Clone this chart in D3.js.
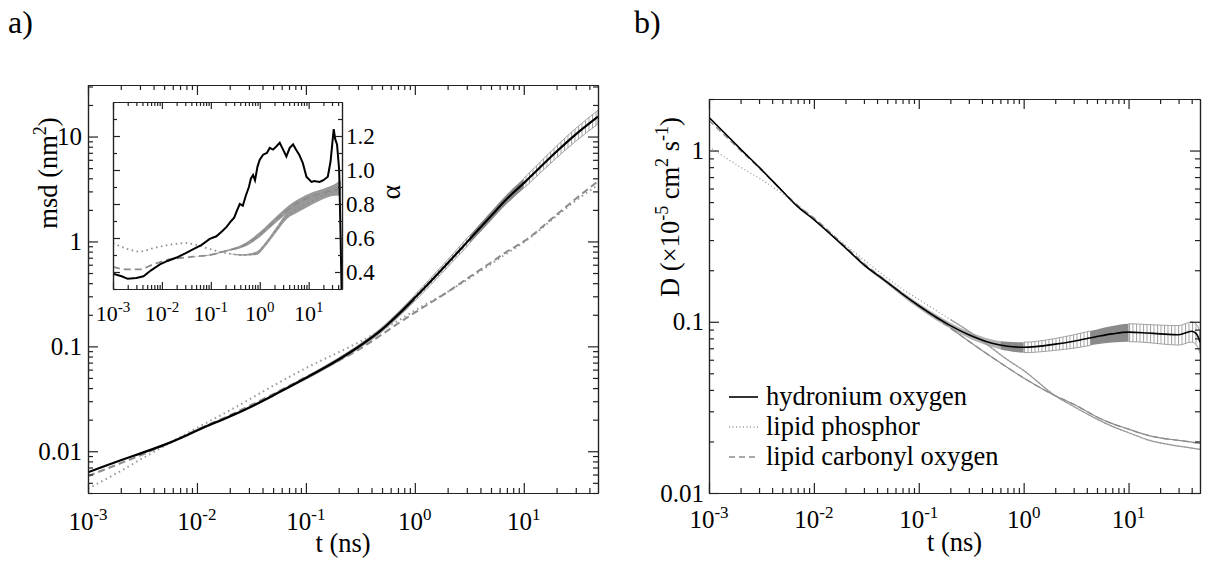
<!DOCTYPE html>
<html>
<head>
<meta charset="utf-8">
<script src="https://cdn.jsdelivr.net/npm/d3@7"></script>
<style>
  body { margin: 0; background: #fff; }
  svg, svg text { font-family: "Liberation Serif", Tinos, "Times New Roman", "DejaVu Serif", serif; }
  svg text { fill: #000; }
  .ax path, .ax line { stroke: #222; stroke-width: 1.2; fill: none; }
  .ax text { display: none; }
</style>
</head>
<body>
<svg id="fig" width="1206" height="563" font-family="Liberation Serif"></svg>
<script>
// ---------------- data ----------------

// panel a: mean square displacement (nm^2) vs t (ns)
const timeA = [0.001, 0.002, 0.003, 0.005, 0.007, 0.01, 0.02, 0.03, 0.05, 0.07, 0.1, 0.2, 0.3, 0.5, 0.7, 1, 2, 3, 5, 7, 10, 20, 30, 48];
const msdHydronium = [0.0063, 0.0082, 0.0095, 0.0115, 0.0133, 0.0158, 0.0215, 0.026, 0.034, 0.041, 0.050, 0.075, 0.098, 0.145, 0.20, 0.29, 0.62, 0.98, 1.75, 2.55, 3.6, 7.2, 10.5, 15.5];
const msdHydroniumErr = [0, 0, 0.02, 0.025, 0.025, 0.03, 0.03, 0.03, 0.03, 0.035, 0.04, 0.05, 0.05, 0.06, 0.065, 0.07, 0.08, 0.09, 0.1, 0.105, 0.11, 0.13, 0.14, 0.15];
const msdPhosphor = [0.0044, 0.0065, 0.0083, 0.0112, 0.0136, 0.0167, 0.0245, 0.031, 0.042, 0.051, 0.062, 0.088, 0.108, 0.145, 0.175, 0.22, 0.33, 0.43, 0.61, 0.77, 0.98, 1.75, 2.45, 3.45];
const msdCarbonyl = [0.0058, 0.0077, 0.0091, 0.0114, 0.0133, 0.016, 0.022, 0.027, 0.035, 0.042, 0.051, 0.073, 0.092, 0.13, 0.165, 0.21, 0.33, 0.44, 0.63, 0.8, 1.0, 1.8, 2.55, 3.75];
// error bar look per time range: [from, to, style]
const msdErrSegments = [[0.003, 0.1, "light"], [0.1, 0.6, "mid"], [0.6, 1, "dark"], [1, 3.2, "hatch"], [3.2, 10, "dark"], [10, 48, "hatch"]];

// inset: exponent alpha
const alphaTimeHyd = [0.001, 0.0015, 0.002, 0.003, 0.0042, 0.006, 0.0091, 0.013, 0.02, 0.03, 0.044, 0.065, 0.095, 0.13, 0.17, 0.21, 0.26, 0.3, 0.34, 0.39, 0.45, 0.52, 0.6, 0.66, 0.73, 0.8, 0.9, 1.0, 1.17, 1.4, 1.6, 1.87, 2.2, 2.56, 3.0, 3.5, 4.1, 4.8, 5.5, 6.4, 7.6, 9.0, 11.4, 13, 16.7, 20, 24.6, 28, 32.5, 35, 38, 42, 45, 47];
const alphaHydronium = [0.39, 0.375, 0.36, 0.365, 0.375, 0.41, 0.445, 0.465, 0.485, 0.51, 0.535, 0.56, 0.595, 0.61, 0.64, 0.665, 0.70, 0.72, 0.76, 0.80, 0.79, 0.85, 0.90, 0.95, 0.97, 0.94, 1.02, 1.06, 1.09, 1.10, 1.13, 1.12, 1.14, 1.16, 1.12, 1.08, 1.13, 1.15, 1.12, 1.09, 1.04, 0.96, 0.93, 0.935, 0.93, 0.94, 0.96, 1.05, 1.24, 1.18, 1.15, 1.0, 0.6, 0.3];
const alphaTimeCarb = [0.001, 0.002, 0.0035, 0.0066, 0.0146, 0.03, 0.044, 0.095, 0.21, 0.46, 1.0, 2.2, 4.8, 10.4, 22.5, 45];
const alphaCarbonyl = [0.43, 0.415, 0.415, 0.445, 0.475, 0.485, 0.49, 0.50, 0.525, 0.555, 0.62, 0.71, 0.79, 0.84, 0.87, 0.89];
const alphaCarbonylSpread = [0, 0, 0, 0, 0, 0, 0, 0.003, 0.005, 0.01, 0.015, 0.018, 0.02, 0.022, 0.025, 0.04];
const alphaTimePhos = [0.001, 0.002, 0.0035, 0.0066, 0.0146, 0.032, 0.05, 0.095, 0.21, 0.46, 0.85, 1.37, 2.2, 3.6, 5.9, 10.4, 22.5, 45];
const alphaPhosphor = [0.57, 0.535, 0.52, 0.54, 0.56, 0.57, 0.56, 0.535, 0.51, 0.50, 0.51, 0.57, 0.65, 0.73, 0.77, 0.81, 0.86, 0.9];
const alphaPhosphorSpread = [0, 0, 0, 0, 0, 0, 0, 0, 0, 0.005, 0.01, 0.012, 0.015, 0.018, 0.02, 0.022, 0.025, 0.04];

// panel b: diffusion coefficient (1e-5 cm^2/s)
const timeB = [0.001, 0.002, 0.003, 0.005, 0.007, 0.01, 0.02, 0.03, 0.05, 0.07, 0.1, 0.2, 0.3, 0.5, 0.7, 1, 2, 3, 5, 7, 10, 15, 20, 30, 40, 45, 48];
const diffHydronium = [1.56, 1.02, 0.80, 0.58, 0.47, 0.395, 0.27, 0.215, 0.17, 0.145, 0.124, 0.095, 0.084, 0.075, 0.072, 0.071, 0.074, 0.077, 0.082, 0.085, 0.087, 0.086, 0.085, 0.084, 0.088, 0.084, 0.076];
const diffHydroniumErr = [0, 0, 0, 0, 0, 0, 0, 0.02, 0.025, 0.03, 0.035, 0.04, 0.045, 0.05, 0.06, 0.07, 0.08, 0.09, 0.1, 0.11, 0.12, 0.12, 0.125, 0.13, 0.135, 0.14, 0.14];
const diffPhosphor = [1.05, 0.8, 0.69, 0.56, 0.48, 0.40, 0.28, 0.23, 0.18, 0.155, 0.135, 0.103, 0.088, 0.07, 0.06, 0.052, 0.037, 0.032, 0.027, 0.0245, 0.0225, 0.0205, 0.0196, 0.0188, 0.0183, 0.0181, 0.018];
const diffCarbonyl = [1.5, 1.0, 0.79, 0.58, 0.48, 0.405, 0.275, 0.22, 0.172, 0.146, 0.124, 0.092, 0.077, 0.062, 0.054, 0.047, 0.037, 0.033, 0.0278, 0.0254, 0.0236, 0.0218, 0.021, 0.0203, 0.0198, 0.0196, 0.0195];
const diffErrSegments = [[0.02, 0.6, "light"], [0.6, 1, "dark"], [1, 4.3, "hatch"], [4.3, 10, "dark"], [10, 48, "hatch"]];

// ticks and labels
const timeTickValues = [0.001, 0.01, 0.1, 1, 10];
const timeTickExponents = ["-3", "-2", "-1", "0", "1"];
const msdTickValues = [0.01, 0.1, 1, 10];
const msdTickLabels = ["0.01", "0.1", "1", "10"];
const alphaTickValues = [0.4, 0.6, 0.8, 1.0, 1.2];
const alphaTickLabels = ["0.4", "0.6", "0.8", "1.0", "1.2"];
const alphaMinorValues = [0.3, 0.5, 0.7, 0.9, 1.1, 1.3];
const diffTickValues = [0.01, 0.1, 1];
const diffTickLabels = ["0.01", "0.1", "1"];
const legendNames = ["hydronium oxygen", "lipid phosphor", "lipid carbonyl oxygen"];

// ---------------- helpers ----------------
const svg = d3.select("#fig");
const GREY = "#8c8c8c";
const fills = { light: "#b4b4b4", mid: "#9e9e9e", dark: "#8a8a8a" };
const TICK_FS = 25, TITLE_FS = 26.5;

// hatch pattern = look of single error bars
const defs = svg.append("defs");
defs.append("pattern").attr("id", "hatch").attr("patternUnits", "userSpaceOnUse")
    .attr("width", 3.5).attr("height", 20)
    .append("rect").attr("x", 0).attr("y", 0).attr("width", 1).attr("height", 20).attr("fill", "#a0a0a0");

function isDecade(v) {
    const l = Math.log10(v);
    return Math.abs(l - Math.round(l)) < 1e-9;
}

function addAxis(g, axisFn, scale, vals, size, tr) {
    g.append("g").attr("class", "ax").attr("transform", tr)
        .call(axisFn(scale).tickValues(vals).tickSize(-size).tickSizeOuter(0).tickFormat(""));
}

// inward ticks on all four sides, xmgrace style
function frame(g, x, y, xMaj, xMin, yMaj, yMin, big, small) {
    const w = x.range()[1], h = y.range()[0];
    addAxis(g, d3.axisBottom, x, xMin, small, `translate(0,${h})`);
    addAxis(g, d3.axisBottom, x, xMaj, big, `translate(0,${h})`);
    addAxis(g, d3.axisTop, x, xMin, small, "translate(0,0)");
    addAxis(g, d3.axisTop, x, xMaj, big, "translate(0,0)");
    addAxis(g, d3.axisLeft, y, yMin, small, "translate(0,0)");
    addAxis(g, d3.axisLeft, y, yMaj, big, "translate(0,0)");
    addAxis(g, d3.axisRight, y, yMin, small, `translate(${w},0)`);
    addAxis(g, d3.axisRight, y, yMaj, big, `translate(${w},0)`);
}

function logMinors(scale) {
    const [a, b] = scale.domain();
    return scale.ticks().filter(v => !isDecade(v) && v >= a && v <= b);
}

function timeLabels(g, x, yPos, fs) {
    const t = g.append("g").selectAll("text").data(timeTickValues).join("text")
        .attr("x", d => x(d)).attr("y", yPos)
        .attr("text-anchor", "middle").attr("font-size", fs);
    t.append("tspan").text("10");
    t.append("tspan").attr("dy", -fs * 0.42).attr("font-size", fs * 0.68)
        .text((d, i) => timeTickExponents[i]);
}

function valueLabels(g, y, vals, labels, xPos, anchor, fs) {
    g.append("g").selectAll("text").data(vals).join("text")
        .attr("x", xPos).attr("y", d => y(d)).attr("dy", "0.34em")
        .attr("text-anchor", anchor).attr("font-size", fs)
        .text((d, i) => labels[i]);
}

function clipRect(g, id, w, h) {
    g.append("clipPath").attr("id", id).append("rect")
        .attr("x", 0).attr("y", 0).attr("width", w).attr("height", h);
}

function errorBand(g, x, y, times, vals, errs, segs, id) {
    const area = d3.area()
        .x((d, i) => x(times[i]))
        .y0((d, i) => y(vals[i] * (1 - errs[i])))
        .y1((d, i) => y(vals[i] * (1 + errs[i])))
        .curve(d3.curveMonotoneX);
    segs.forEach((s, k) => {
        const cid = id + "-seg" + k;
        g.append("clipPath").attr("id", cid).append("rect")
            .attr("x", x(s[0])).attr("width", x(s[1]) - x(s[0]))
            .attr("y", -10).attr("height", 1000);
        g.append("path").datum(vals).attr("d", area)
            .attr("clip-path", `url(#${cid})`)
            .attr("fill", s[2] === "hatch" ? "url(#hatch)" : fills[s[2]])
            .attr("stroke", s[2] === "hatch" ? "#a0a0a0" : "none")
            .attr("stroke-width", 1);
    });
}

function curve(g, x, y, times, vals, color, width, dash, curveType) {
    const line = d3.line()
        .x((d, i) => x(times[i])).y(d => y(d))
        .curve(curveType || d3.curveMonotoneX);
    return g.append("path").datum(vals).attr("d", line)
        .attr("fill", "none").attr("stroke", color).attr("stroke-width", width)
        .attr("stroke-dasharray", dash || null);
}

// ---------------- panel a ----------------
const aW = 510, aH = 408;
const gA = svg.append("g").attr("transform", "translate(88,85)");
const xA = d3.scaleLog().domain([1e-3, 48]).range([0, aW]);
const yA = d3.scaleLog().domain([0.004, 31]).range([aH, 0]);

clipRect(gA, "clipA", aW, aH);
const plotA = gA.append("g").attr("clip-path", "url(#clipA)");
errorBand(plotA, xA, yA, timeA, msdHydronium, msdHydroniumErr, msdErrSegments, "errA");
curve(plotA, xA, yA, timeA, msdPhosphor, "#999", 2, "1.5,3.5");
curve(plotA, xA, yA, timeA, msdCarbonyl, GREY, 2, "7,4");
curve(plotA, xA, yA, timeA, msdHydronium, "#000", 2.2);

frame(gA, xA, yA, timeTickValues, logMinors(xA), msdTickValues, logMinors(yA), 10, 5);
timeLabels(gA, xA, aH + 37, TICK_FS);
valueLabels(gA, yA, msdTickValues, msdTickLabels, -6, "end", TICK_FS);

gA.append("text").attr("x", aW / 2).attr("y", aH + 59)
    .attr("text-anchor", "middle").attr("font-size", TITLE_FS).text("t (ns)");
const msdTitle = gA.append("text").attr("transform", "translate(-31,88) rotate(-90)")
    .attr("text-anchor", "middle").attr("font-size", TITLE_FS);
msdTitle.append("tspan").text("msd (nm");
msdTitle.append("tspan").attr("dy", -11).attr("font-size", 18).text("2");
msdTitle.append("tspan").attr("dy", 11).text(")");

svg.append("text").attr("x", 8).attr("y", 33).attr("font-size", 32).text("a)");

// inset
const iW = 229, iH = 187;
const gI = svg.append("g").attr("transform", "translate(113,102)");
const xI = d3.scaleLog().domain([1e-3, 48]).range([0, iW]);
const yI = d3.scaleLinear().domain([0.3, 1.4]).range([iH, 0]);
gI.append("rect").attr("width", iW).attr("height", iH).attr("fill", "#fff");
clipRect(gI, "clipI", iW, iH);
const plotI = gI.append("g").attr("clip-path", "url(#clipI)");

function spreadBand(g, times, vals, spread) {
    const area = d3.area()
        .x((d, i) => xI(times[i]))
        .y0((d, i) => yI(vals[i] - spread[i]))
        .y1((d, i) => yI(vals[i] + spread[i]))
        .curve(d3.curveMonotoneX);
    g.append("path").datum(vals).attr("d", area).attr("fill", "#999");
}
spreadBand(plotI, alphaTimeCarb, alphaCarbonyl, alphaCarbonylSpread);
spreadBand(plotI, alphaTimePhos, alphaPhosphor, alphaPhosphorSpread);
curve(plotI, xI, yI, alphaTimePhos, alphaPhosphor, GREY, 1.8, "1.5,3.5");
curve(plotI, xI, yI, alphaTimeCarb, alphaCarbonyl, GREY, 1.8, "7,4");
curve(plotI, xI, yI, alphaTimeHyd, alphaHydronium, "#000", 2, null, d3.curveLinear);

frame(gI, xI, yI, timeTickValues, logMinors(xI), alphaTickValues, alphaMinorValues, 7, 4);
timeLabels(gI, xI, iH + 32, 22);
valueLabels(gI, yI, alphaTickValues, alphaTickLabels, iW + 4, "start", 23);
gI.append("text").attr("transform", `translate(${iW + 58},${yI(0.87)}) rotate(-90)`)
    .attr("text-anchor", "middle").attr("font-size", 28).text("α");

// ---------------- panel b ----------------
const bW = 491, bH = 394;
const gB = svg.append("g").attr("transform", "translate(709,99)");
const xB = d3.scaleLog().domain([1e-3, 48]).range([0, bW]);
const yB = d3.scaleLog().domain([0.01, 2]).range([bH, 0]);

clipRect(gB, "clipB", bW, bH);
const plotB = gB.append("g").attr("clip-path", "url(#clipB)");
errorBand(plotB, xB, yB, timeB, diffHydronium, diffHydroniumErr, diffErrSegments, "errB");
curve(plotB, xB, yB, timeB, diffPhosphor, "#999", 1.3, "1,2.5");
curve(plotB, xB, yB, timeB, diffCarbonyl, GREY, 1.3, "6,4");
// at late times the densely sampled lipid curves render as solid grey
const lateB = timeB.map((t, i) => i).filter(i => timeB[i] >= 0.2);
curve(plotB, xB, yB, lateB.map(i => timeB[i]), lateB.map(i => diffPhosphor[i]), "#999", 1.2);
curve(plotB, xB, yB, lateB.map(i => timeB[i]), lateB.map(i => diffCarbonyl[i]), GREY, 1.2);
curve(plotB, xB, yB, timeB, diffHydronium, "#000", 1.6);

frame(gB, xB, yB, timeTickValues, logMinors(xB), diffTickValues, logMinors(yB), 10, 5);
timeLabels(gB, xB, bH + 35, TICK_FS);
valueLabels(gB, yB, diffTickValues, diffTickLabels, -5, "end", TICK_FS);

gB.append("text").attr("x", bW / 2).attr("y", bH + 58)
    .attr("text-anchor", "middle").attr("font-size", TITLE_FS).text("t (ns)");
const dTitle = gB.append("text").attr("transform", "translate(-30,108) rotate(-90)")
    .attr("text-anchor", "middle").attr("font-size", TITLE_FS);
dTitle.append("tspan").text("D (×10");
dTitle.append("tspan").attr("dy", -11).attr("font-size", 18).text("-5");
dTitle.append("tspan").attr("dy", 11).text(" cm");
dTitle.append("tspan").attr("dy", -11).attr("font-size", 18).text("2");
dTitle.append("tspan").attr("dy", 11).text(" s");
dTitle.append("tspan").attr("dy", -11).attr("font-size", 18).text("-1");
dTitle.append("tspan").attr("dy", 11).text(")");

svg.append("text").attr("x", 634).attr("y", 33).attr("font-size", 32).text("b)");

// legend
const legendStyles = [["#000", 1.6, null], ["#999", 1.3, "1,2.5"], [GREY, 1.3, "6,4"]];
const leg = gB.append("g").attr("transform", "translate(20,298)")
    .selectAll("g").data(legendNames).join("g")
    .attr("transform", (d, i) => `translate(0,${i * 30})`);
leg.append("line").attr("x1", 0).attr("x2", 29).attr("y1", 0).attr("y2", 0)
    .attr("stroke", (d, i) => legendStyles[i][0])
    .attr("stroke-width", (d, i) => legendStyles[i][1])
    .attr("stroke-dasharray", (d, i) => legendStyles[i][2]);
leg.append("text").attr("x", 37).attr("y", 8).attr("font-size", TITLE_FS).text(d => d);
</script>
</body>
</html>
